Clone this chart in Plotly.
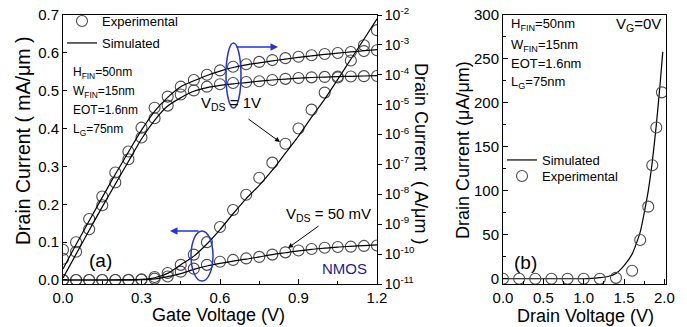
import plotly.graph_objects as go

W, H = 687, 327
OX, OY = 8, 8   # page body margin offset compensation
FONT = "Liberation Sans, Arial, sans-serif"

# ---------------- Panel (a): transfer characteristics ----------------
vg = [0.00, 0.05, 0.10, 0.15, 0.20, 0.25, 0.30, 0.35, 0.40, 0.45, 0.50, 0.55, 0.60,
      0.65, 0.70, 0.75, 0.80, 0.85, 0.90, 0.95, 1.00, 1.05, 1.10, 1.15, 1.20]

# drain current in A/um
exp_1v = [1.4e-10, 2.5e-10, 1.5e-9, 8.5e-9, 5.4e-8, 2.7e-7, 1.7e-6, 7.9e-6, 1.86e-5, 4.0e-5,
          6.7e-5, 1.0e-4, 1.4e-4, 1.85e-4, 2.25e-4, 2.7e-4, 3.1e-4, 3.6e-4, 4.0e-4, 4.5e-4,
          4.95e-4, 5.35e-4, 5.8e-4, 6.2e-4, 6.6e-4]
exp_50mv = [7e-11, 1.2e-10, 6.8e-10, 4.3e-9, 2.5e-8, 1.5e-7, 8e-7, 3.5e-6, 9.3e-6, 2.2e-5,
            3.0e-5, 4.0e-5, 4.8e-5, 5.3e-5, 5.7e-5, 6.1e-5, 6.7e-5, 7.3e-5, 7.8e-5, 8.2e-5,
            8.5e-5, 8.7e-5, 8.8e-5, 9.0e-5, 9.1e-5]
sim_1v = [3.2e-11, 2.1e-10, 1.3e-9, 7.9e-9, 4.7e-8, 2.6e-7, 1.4e-6, 6.0e-6, 1.75e-5, 4.0e-5,
          6.3e-5, 9.5e-5, 1.33e-4, 1.75e-4, 2.15e-4, 2.5e-4, 2.9e-4, 3.35e-4, 3.8e-4, 4.3e-4,
          4.78e-4, 5.3e-4, 5.83e-4, 6.36e-4, 6.9e-4]
sim_50mv = [1.6e-11, 1.0e-10, 6.3e-10, 3.8e-9, 2.2e-8, 1.26e-7, 7.1e-7, 3.0e-6, 9.0e-6, 1.7e-5,
            2.8e-5, 3.7e-5, 4.4e-5, 5.0e-5, 5.5e-5, 6.1e-5, 6.7e-5, 7.2e-5, 7.7e-5, 8.1e-5,
            8.4e-5, 8.7e-5, 8.9e-5, 9.1e-5, 9.3e-5]

vg_ticks = [0.0, 0.3, 0.6, 0.9, 1.2]
lin_ticks = [0.0, 0.1, 0.2, 0.3, 0.4, 0.5, 0.6, 0.7]
log_tickvals = [1e-2, 1e-3, 1e-4, 1e-5, 1e-6, 1e-7, 1e-8, 1e-9, 1e-10, 1e-11]
log_ticktext = ["10<sup>-2</sup>", "10<sup>-3</sup>", "10<sup>-4</sup>", "10<sup>-5</sup>",
                "10<sup>-6</sup>", "10<sup>-7</sup>", "10<sup>-8</sup>", "10<sup>-9</sup>",
                "10<sup>-10</sup>", "10<sup>-11</sup>"]

# ---------------- Panel (b): output characteristic at VG=0 ----------------
vd_exp = [0.0, 0.2, 0.4, 0.6, 0.8, 1.0, 1.2, 1.4, 1.6, 1.7, 1.8, 1.85, 1.9, 1.97]
id_exp = [0, 0, 0, 0, 0, 0, 0, 1, 9, 44, 82, 129, 172, 212]
vd_sim = [0.0, 0.5, 1.0, 1.1, 1.2, 1.3, 1.4, 1.5, 1.6, 1.7, 1.75, 1.8, 1.85, 1.9, 1.95, 1.98]
id_sim = [0, 0, 0, 0.3, 1.2, 2.5, 6, 15, 28, 53, 75, 100, 133, 175, 225, 258]

vd_ticks = [0.0, 0.5, 1.0, 1.5, 2.0]
id_ticks = [0, 50, 100, 150, 200, 250, 300]

MK = dict(symbol="circle-open", size=11, color="#4a4a4a", line=dict(width=1.1, color="#4a4a4a"))
LN = dict(color="black", width=1.2)


def px(x):
    return (x - OX) / W


def py(y):
    return 1 - (y - OY) / H


fig = go.Figure()

to_ma = lambda arr: [v * 1e3 for v in arr]

# linear (left axis, mA/um)
fig.add_trace(go.Scatter(x=vg, y=to_ma(exp_1v), mode="markers", marker=MK, xaxis="x", yaxis="y",
                         name="Experimental", legend="legend", showlegend=True))
fig.add_trace(go.Scatter(x=vg, y=to_ma(exp_50mv), mode="markers", marker=MK, xaxis="x", yaxis="y",
                         showlegend=False))
fig.add_trace(go.Scatter(x=vg, y=to_ma(sim_1v), mode="lines", line=dict(**LN, shape="spline", smoothing=0.8),
                         xaxis="x", yaxis="y", name="Simulated", legend="legend2", showlegend=True))
fig.add_trace(go.Scatter(x=vg, y=to_ma(sim_50mv), mode="lines", line=dict(**LN, shape="spline", smoothing=0.8),
                         xaxis="x", yaxis="y", showlegend=False))
# log (right axis, A/um)
fig.add_trace(go.Scatter(x=vg, y=exp_1v, mode="markers", marker=MK, xaxis="x", yaxis="y2", showlegend=False))
fig.add_trace(go.Scatter(x=vg, y=exp_50mv, mode="markers", marker=MK, xaxis="x", yaxis="y2", showlegend=False))
fig.add_trace(go.Scatter(x=vg, y=sim_1v, mode="lines", line=dict(**LN, shape="spline", smoothing=0.8),
                         xaxis="x", yaxis="y2", showlegend=False))
fig.add_trace(go.Scatter(x=vg, y=sim_50mv, mode="lines", line=dict(**LN, shape="spline", smoothing=0.8),
                         xaxis="x", yaxis="y2", showlegend=False))

# panel (b)
fig.add_trace(go.Scatter(x=vd_sim, y=id_sim, mode="lines", line=dict(**LN, shape="spline", smoothing=0.6),
                         xaxis="x2", yaxis="y3", name="Simulated", legend="legend3", showlegend=True))
fig.add_trace(go.Scatter(x=vd_exp, y=id_exp, mode="markers", marker=MK, xaxis="x2", yaxis="y3",
                         name="Experimental", legend="legend4", showlegend=True))

XA = [px(63), px(377)]
XB = [px(503), px(666)]
YD = [py(284), py(15)]

axis_common = dict(showline=True, linecolor="black", linewidth=1, showgrid=False, zeroline=False,
                   automargin=False, ticklabeloverflow="allow", tickcolor="black",
                   tickfont=dict(size=15, family=FONT, color="black"))


def leg(x, y):
    return dict(x=px(x), y=py(y), xanchor="left", yanchor="middle", bgcolor="rgba(0,0,0,0)",
                borderwidth=0, font=dict(size=13, family=FONT, color="black"), itemwidth=30,
                tracegroupgap=0)


fig.update_layout(
    template="none",
    width=W, height=H, margin=dict(l=0, r=0, t=0, b=0, pad=0, autoexpand=False),
    paper_bgcolor="white", plot_bgcolor="white",
    font=dict(family=FONT, color="black"),
    xaxis=dict(domain=XA, range=[0, 1.2], anchor="y", tickvals=vg_ticks, tickformat=".1f",
               ticks="inside", ticklen=5, mirror=True,
               minor=dict(ticks="inside", ticklen=3, dtick=0.15, tickcolor="black"), **axis_common),
    yaxis=dict(domain=YD, range=[-0.0106, 0.7], anchor="x", tickvals=lin_ticks, tickformat=".1f",
               ticks="inside", ticklen=4, **axis_common),
    yaxis2=dict(domain=YD, type="log", range=[-11, -2], anchor="x", overlaying="y", side="right",
                tickvals=log_tickvals, ticktext=log_ticktext, ticks="outside", ticklen=4,
                showline=True, linecolor="black", linewidth=1, showgrid=False, zeroline=False,
                automargin=False, ticklabeloverflow="allow", tickcolor="black",
                tickfont=dict(size=14, family=FONT, color="black")),
    xaxis2=dict(domain=XB, range=[0, 2.02], anchor="y3", tickvals=vd_ticks, tickformat=".1f",
                ticks="inside", ticklen=5, mirror=True,
                minor=dict(ticks="inside", ticklen=3, dtick=0.25, tickcolor="black"), **axis_common),
    yaxis3=dict(domain=YD, range=[-6, 300], anchor="x2", tickvals=id_ticks, ticks="inside", ticklen=5,
                mirror=True, minor=dict(ticks="inside", ticklen=3, dtick=25, tickcolor="black"),
                **axis_common),
    legend=leg(62, 21), legend2=leg(62, 43), legend3=leg(502, 160), legend4=leg(502, 176),
)


def ann(text, x, y, size, xanchor="left", yanchor="middle", color="black", angle=0):
    return dict(text=text, x=px(x), y=py(y), xref="paper", yref="paper", showarrow=False,
                font=dict(size=size, color=color, family=FONT), xanchor=xanchor, yanchor=yanchor,
                textangle=angle)


def arrow(x0, y0, x1, y1, color, width=1, head=2, hs=1):
    return dict(text="", x=px(x1), y=py(y1), xref="paper", yref="paper", ax=x0 - x1, ay=y0 - y1,
                axref="pixel", ayref="pixel", showarrow=True, arrowhead=head, arrowsize=hs,
                arrowwidth=width, arrowcolor=color)


BLUE = "#2233dd"
anns = [
    # axis titles
    ann("Drain Current ( mA/μm )", 23, 141, 19.5, "center", "middle", angle=-90),
    ann("Drain Current  ( A/μm )", 421, 153, 18, "center", "middle", angle=90),
    ann("Gate Voltage (V)", 219, 315, 18, "center", "middle"),
    ann("Drain Voltage (V)", 585, 316, 18, "center", "middle"),
    ann("Drain Current (μA/μm)", 463, 150, 18, "center", "middle", angle=-90),
    # panel (a) text
    ann("H<sub>FIN</sub>=50nm", 71, 73, 12),
    ann("W<sub>FIN</sub>=15nm", 71, 92, 12),
    ann("EOT=1.6nm", 71, 110, 12),
    ann("L<sub>G</sub>=75nm", 71, 130, 12),
    ann("V<sub>DS</sub> = 1V", 199, 103, 15),
    ann("V<sub>DS</sub> = 50 mV", 284, 214, 15),
    ann("NMOS", 344, 268, 15, "center", "middle", color="#1c1c8c"),
    ann("(a)", 100, 261, 19, "center", "middle"),
    # panel (b) text
    ann("H<sub>FIN</sub>=50nm", 509, 25, 13),
    ann("W<sub>FIN</sub>=15nm", 509, 45, 13),
    ann("EOT=1.6nm", 509, 63, 13),
    ann("L<sub>G</sub>=75nm", 509, 83, 13),
    ann("V<sub>G</sub>=0V", 663, 25, 15, "right", "middle"),
    ann("(b)", 525, 262, 19, "center", "middle"),
    # arrows
    arrow(247, 118, 280, 142, "black", 1, 2, 1),
    arrow(320, 225, 288, 248, "black", 1, 2, 1),
    arrow(235, 47, 278, 47, BLUE, 1.5, 2, 1),
    arrow(200, 231, 170, 231, BLUE, 1.5, 2, 1),
]
fig.update_layout(annotations=anns)

fig.update_layout(shapes=[
    dict(type="circle", xref="paper", yref="paper", x0=px(226), x1=px(241), y0=py(108), y1=py(43),
         line=dict(color=BLUE, width=1.5)),
    dict(type="circle", xref="paper", yref="paper", x0=px(191), x1=px(213), y0=py(281), y1=py(231),
         line=dict(color=BLUE, width=1.5)),
])

fig.write_html("out.html")
